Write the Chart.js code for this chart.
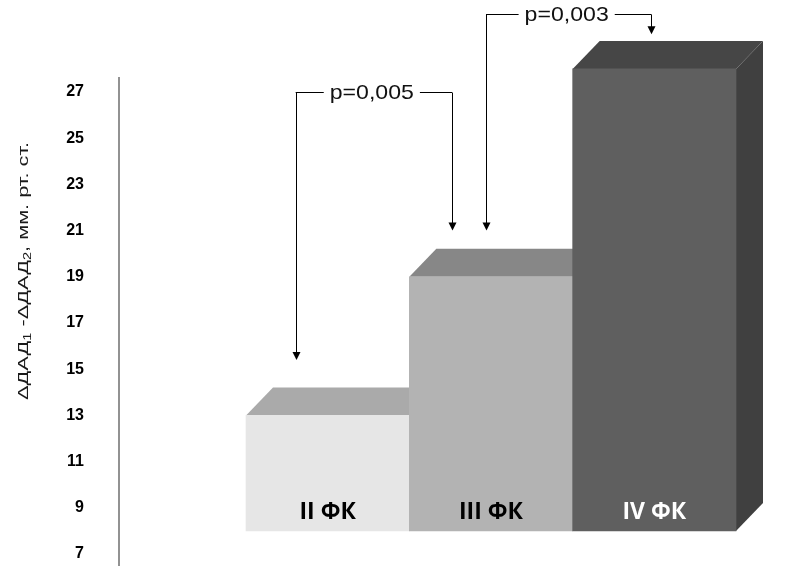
<!DOCTYPE html>
<html><head><meta charset="utf-8">
<script src="https://cdn.jsdelivr.net/npm/chart.js@4.4.0/dist/chart.umd.min.js"></script>
<style>html,body{margin:0;padding:0;background:#fff;}canvas{display:block}</style>
</head><body>
<canvas id="c" width="786" height="566" style="width:786px;height:566px"></canvas>
<script>
// ---- data ----
const categories = ['II ФК', 'III ФК', 'IV ФК'];
const values = [13, 19, 28];
const baseValue = 8;
const yTicks = [7, 9, 11, 13, 15, 17, 19, 21, 23, 25, 27];
const pLabels = ['p=0,005', 'p=0,003'];
const yTitleParts = [['ΔДАД', false], ['1', true], [' -ΔДАД', false], ['2', true], [', мм. рт. ст.', false]];

// ---- styles ----
const frontColors = ['#e6e6e6', '#b3b3b3', '#5f5f5f'];
const topColors = ['#aaaaaa', '#878787', '#464646'];
const sideColors = ['#8f8f8f', '#6e6e6e', '#404040'];
const labelColors = ['#000000', '#000000', '#ffffff'];
const DX = 27, DY = 28;

// bracket annotations: [category index, pixel offset] for ends, values for y
const brackets = [
  { text: pLabels[0], a: [0, -32], b: [1, -39], yLine: 27.0, tipA: 15.4, tipB: 21.0 },
  { text: pLabels[1], a: [1, -5], b: [2, -3], yLine: 30.38, tipA: 21.0, tipB: 29.5 }
];

function arrowDown(ctx, x, yTop, yTip) {
  ctx.beginPath();
  ctx.moveTo(x, yTop);
  ctx.lineTo(x, yTip - 6);
  ctx.stroke();
  ctx.beginPath();
  ctx.moveTo(x - 4, yTip - 8);
  ctx.lineTo(x + 4, yTip - 8);
  ctx.lineTo(x, yTip);
  ctx.closePath();
  ctx.fill();
}

const threeD = {
  id: 'threeD',
  beforeDatasetsDraw(chart) {
    const ctx = chart.ctx;
    const meta = chart.getDatasetMeta(0);
    meta.data.forEach((bar, i) => {
      const p = bar.getProps(['x', 'y', 'base', 'width'], true);
      const l = p.x - p.width / 2, r = p.x + p.width / 2, t = p.y, b = p.base;
      ctx.save();
      ctx.fillStyle = sideColors[i];
      ctx.beginPath();
      ctx.moveTo(r, t); ctx.lineTo(r + DX, t - DY); ctx.lineTo(r + DX, b - DY); ctx.lineTo(r, b);
      ctx.closePath(); ctx.fill();
      ctx.fillStyle = topColors[i];
      ctx.beginPath();
      ctx.moveTo(l, t); ctx.lineTo(l + DX, t - DY); ctx.lineTo(r + DX, t - DY); ctx.lineTo(r, t);
      ctx.closePath(); ctx.fill();
      ctx.restore();
    });
  },
  afterDatasetsDraw(chart) {
    const ctx = chart.ctx;
    const meta = chart.getDatasetMeta(0);
    const ys = chart.scales.y;
    const ca = chart.chartArea;

    // category labels inside bars
    meta.data.forEach((bar, i) => {
      const p = bar.getProps(['x', 'base'], true);
      ctx.save();
      ctx.font = 'bold 23px "Open Sans"';
      ctx.fillStyle = labelColors[i];
      ctx.textAlign = 'center';
      ctx.textBaseline = 'alphabetic';
      ctx.fillText(categories[i], p.x, p.base - 12);
      ctx.restore();
    });

    // bracket annotations
    brackets.forEach(br => {
      const xa = meta.data[br.a[0]].x + br.a[1];
      const xb = meta.data[br.b[0]].x + br.b[1];
      const yl = Math.round(ys.getPixelForValue(br.yLine)) + 0.5;
      ctx.save();
      ctx.strokeStyle = '#000';
      ctx.fillStyle = '#000';
      ctx.lineWidth = 1;
      ctx.font = '21px "Liberation Sans"';
      const sx = 1.1;
      const tw = ctx.measureText(br.text).width * sx;
      const cx = (xa + xb) / 2 - 2;
      ctx.beginPath();
      ctx.moveTo(xa, yl); ctx.lineTo(cx - tw / 2 - 6, yl);
      ctx.moveTo(cx + tw / 2 + 6, yl); ctx.lineTo(xb, yl);
      ctx.stroke();
      arrowDown(ctx, Math.round(xa) + 0.5, yl, ys.getPixelForValue(br.tipA));
      arrowDown(ctx, Math.round(xb) + 0.5, yl, ys.getPixelForValue(br.tipB));
      ctx.translate(cx, yl + 6);
      ctx.scale(sx, 1);
      ctx.textAlign = 'center';
      ctx.textBaseline = 'alphabetic';
      ctx.fillStyle = '#111';
      ctx.fillText(br.text, 0, 0);
      ctx.restore();
    });

    // vertical axis line
    ctx.save();
    ctx.strokeStyle = '#6e6e6e';
    ctx.lineWidth = 1.5;
    ctx.beginPath();
    ctx.moveTo(119, ca.top);
    ctx.lineTo(119, ca.bottom);
    ctx.stroke();
    ctx.restore();

    // y axis title (rotated)
    ctx.save();
    ctx.translate(23, 271);
    ctx.rotate(-Math.PI / 2);
    const mainFont = '15px "Liberation Sans"', subFont = '10px "Liberation Sans"';
    let total = 0;
    yTitleParts.forEach(([t, sub]) => { ctx.font = sub ? subFont : mainFont; total += ctx.measureText(t).width; });
    const target = 258;
    ctx.scale(target / total, 1);
    let x = -total / 2;
    ctx.fillStyle = '#1a1a1a';
    ctx.textBaseline = 'alphabetic';
    ctx.textAlign = 'left';
    yTitleParts.forEach(([t, sub]) => {
      ctx.font = sub ? subFont : mainFont;
      ctx.fillText(t, x, sub ? 8 : 5);
      x += ctx.measureText(t).width;
    });
    ctx.restore();
  }
};

new Chart(document.getElementById('c'), {
  type: 'bar',
  data: {
    labels: categories,
    datasets: [{
      data: values,
      base: baseValue,
      backgroundColor: frontColors,
      borderWidth: 0,
      barPercentage: 1,
      categoryPercentage: 1,
      clip: false
    }]
  },
  options: {
    responsive: false,
    maintainAspectRatio: false,
    animation: false,
    events: [],
    layout: { padding: { left: 0, right: 50, top: 77, bottom: 0 } },
    plugins: { legend: { display: false }, tooltip: { enabled: false }, title: { display: false } },
    scales: {
      x: { display: false, offset: true },
      y: {
        min: 6.48,
        max: 27.65,
        afterBuildTicks: (scale) => { scale.ticks = yTicks.map(v => ({ value: v })); },
        afterFit: (scale) => { scale.width = 246; scale.paddingTop = 0; scale.paddingBottom = 0; },
        grid: { display: false, drawTicks: false },
        border: { display: false },
        ticks: {
          padding: 162,
          color: '#000',
          font: { family: '"Liberation Sans"', size: 16, weight: 'bold' }
        }
      }
    }
  },
  plugins: [threeD]
});
</script>
</body></html>
